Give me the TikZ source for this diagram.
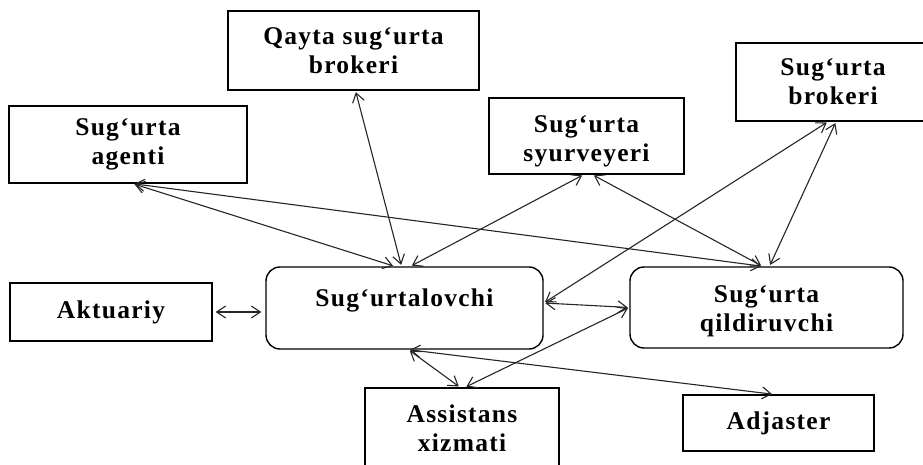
\documentclass[tikz,border=0pt]{standalone}
\usepackage{fontspec}
\newfontfamily\boxfont{Liberation Serif}[LetterSpace=5]
\usetikzlibrary{arrows.meta}
\begin{document}
\begin{tikzpicture}[x=1pt,y=-1pt,
  box/.style={draw=black, line width=1.4pt, rectangle, inner sep=0pt, align=center,
    font=\boxfont\bfseries\fontsize{25.5}{29}\selectfont},
  rbox/.style={box, rounded corners=14pt},
  link/.style={draw=black!85, line width=1.1pt, shorten <=1.5pt, shorten >=1.5pt,
    {Straight Barb[length=9pt,width=12pt]}-{Straight Barb[length=9pt,width=12pt]}}]
\useasboundingbox (0,0) rectangle (923,465);
\fill[white] (0,0) rectangle (923,465);

\node[box, minimum width=251pt, minimum height=79pt] (qayta) at (353.5,50.5) {Qayta sug‘urta\\brokeri};
\node[box, minimum width=238pt, minimum height=77pt] (agent) at (128,144.5) {Sug‘urta\\agenti};
\node[box, minimum width=195pt, minimum height=76pt] (surv) at (586.5,136) {\rule{0pt}{27pt}Sug‘urta\\syurveyeri};
\node[box, minimum width=194pt, minimum height=78pt] (broker) at (833,82) {Sug‘urta\\brokeri};
\node[box, minimum width=202pt, minimum height=58pt] (akt) at (111,312) {Aktuariy};
\node[rbox, minimum width=277pt, minimum height=82pt] (insurer) at (404.5,308)
  {\raisebox{0pt}[\height][\dimexpr\depth+16pt\relax]{Sug‘urtalovchi}};
\node[rbox, minimum width=273pt, minimum height=81pt] (insured) at (766.5,307.5) {\rule{0pt}{25pt}Sug‘urta\\qildiruvchi};
\node[box, minimum width=194pt, minimum height=80pt] (assist) at (462,428) {Assistans\\xizmati};
\node[box, minimum width=191pt, minimum height=56pt] (adj) at (778.5,423) {Adjaster};

\draw[link] ([xshift=2pt]qayta.south) -- ([xshift=-3pt]insurer.north);
\draw[link] ([xshift=5pt]agent.south) -- ([xshift=-10pt]insurer.north);
\draw[link] ([xshift=5pt]agent.south) -- ([xshift=-4pt]insured.north);
\draw[link] ([xshift=6pt]insurer.north) -- ([xshift=-3pt]surv.south);
\draw[link] ([xshift=6pt]surv.south) -- ([xshift=-4pt]insured.north);
\draw[link] ([yshift=5pt]insurer.east) -- ([xshift=-5pt]broker.south);
\draw[link] ([xshift=3pt]broker.south) -- ([xshift=3pt]insured.north);
\draw[link] ([yshift=5pt]insurer.east) -- (insured.west);
\draw[link] (insured.west) -- ([xshift=3pt]assist.north);
\draw[link] ([xshift=4pt]insurer.south) -- ([xshift=-2pt]assist.north);
\draw[link] ([xshift=4pt]insurer.south) -- ([xshift=-5pt]adj.north);
\draw[link, shorten <=3pt, shorten >=4pt] (akt.east) -- ([yshift=-4pt]insurer.west);
\end{tikzpicture}
\end{document}
